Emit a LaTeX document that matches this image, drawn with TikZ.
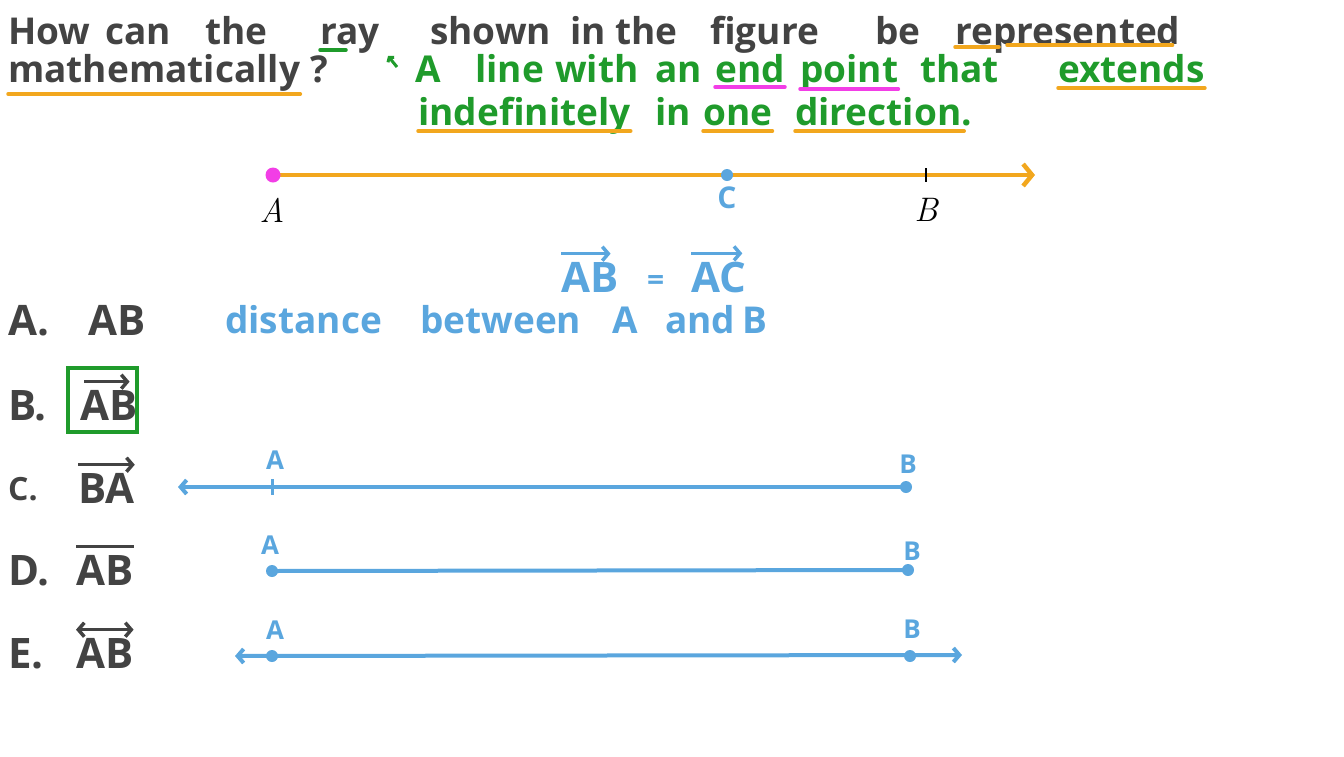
\documentclass[tikz,border=0pt]{standalone}
\usepackage{fontspec}
\newfontfamily\hand{Open Sans}
\usetikzlibrary{arrows.meta}
\definecolor{ink}{HTML}{434343}
\definecolor{note}{HTML}{1F9B2B}
\definecolor{hl}{HTML}{F2A71E}
\definecolor{pinkhl}{HTML}{F23EE6}
\definecolor{pen}{HTML}{5AA6DE}

\begin{document}
\begin{tikzpicture}[x=1pt, y=-1pt, >={Straight Barb[length=6pt, width=14pt]},
	word/.style={anchor=base west, inner sep=0pt, text=ink, font=\hand\bfseries\fontsize{37}{44}\selectfont},
	noteword/.style={word, text=note},
	penword/.style={word, text=pen},
	optword/.style={word, font=\hand\bfseries\fontsize{42}{50}\selectfont},
	uline/.style={line width=3.5pt, line cap=round},
	dot/.style={circle, fill=pen, inner sep=0pt, minimum size=12pt},
	lbl/.style={inner sep=0pt, text=pen, font=\hand\bfseries\fontsize{26}{30}\selectfont}]
	\useasboundingbox (0,0) rectangle (1344,756);
	%question
	\foreach \w/\x [count=\i] in {How/8, can/105, the/205, ray/320, shown/430, in/570, the/615, figure/710, be/875, represented/955}
		\node[word] (q\i) at (\x,44) {\w};
	\node[word] (q11) at (8,82) {mathematically};
	\node[word] (q12) at (310,82) {?};
	%note
	\foreach \w/\x [count=\i] in {A/415, line/475, with/555, an/655, end/715, point/800, that/920, extends/1058}
		\node[noteword] (n\i) at (\x,82) {\w};
	\foreach \w/\x [count=\i from 9] in {indefinitely/418, in/655, one/703, direction./795}
		\node[noteword] (n\i) at (\x,125) {\w};
	\coordinate (tail) at (397,67);
	\coordinate (head) at (388,56);
	\draw[note, line width=3pt, -{Straight Barb[length=3pt, width=8pt]}] (tail) -- (head);
	%underlines
	\draw[uline, note] ([yshift=-6pt]q4.base west) -- ++(26,0);
	\draw[uline, hl] ([yshift=-3pt]q10.base west) -- ++(44,0);
	\draw[uline, hl] ([xshift=52pt, yshift=-1pt]q10.base west) -- ([xshift=-8pt, yshift=-1pt]q10.base east);
	\foreach \n/\c/\d in {q11/hl/12, n5/pinkhl/5, n6/pinkhl/7, n8/hl/6, n9/hl/6, n11/hl/6}
		\draw[uline, \c] ([yshift=-\d pt]\n.base west) -- ([yshift=-\d pt]\n.base east);
	\draw[uline, hl] ([yshift=-6pt]n12.base west) -- ([xshift=-8pt, yshift=-6pt]n12.base east);
	%ray
	\coordinate (A) at (273,175);
	\coordinate (C) at (727,175);
	\coordinate (B) at (926,175);
	\coordinate (tip) at (1035,175);
	\draw[hl, line width=4.5pt, line cap=round, -{Straight Barb[length=9pt, width=22pt]}] (A) -- (tip);
	\node[circle, fill=pinkhl, inner sep=0pt, minimum width=11pt, minimum height=15pt] (Adot) at (A) {};
	\node[dot] (Cdot) at (C) {};
	\draw[black, line width=1.5pt] ([yshift=7pt]B) -- ([yshift=-7pt]B);
	\node[font=\fontsize{34}{40}\selectfont\itshape, inner sep=0pt] (Alab) at (272,210) {A};
	\node[lbl, font=\hand\bfseries\fontsize{30}{34}\selectfont] (Clab) at (727,198) {C};
	\node[font=\fontsize{34}{40}\selectfont\itshape, inner sep=0pt] (Blab) at (926,210) {B};
	%AB = AC
	\node[penword, font=\hand\bfseries\fontsize{42}{50}\selectfont] (ab) at (561,292) {AB};
	\node[penword, font=\hand\bfseries\fontsize{30}{36}\selectfont] (eq) at (647,290) {=};
	\node[penword, font=\hand\bfseries\fontsize{42}{50}\selectfont] (ac) at (691,292) {AC};
	\draw[pen, line width=3.5pt, ->] ([yshift=8pt]ab.north west) -- ([xshift=-8pt, yshift=8pt]ab.north east);
	\draw[pen, line width=3.5pt, ->] ([yshift=8pt]ac.north west) -- ([xshift=-4pt, yshift=8pt]ac.north east);
	%options
	\node[optword] (optA) at (8,335) {A.};
	\node[optword] (optB) at (8,420) {B.};
	\node[optword, font=\hand\bfseries\fontsize{32}{40}\selectfont] (optC) at (8,500) {C.};
	\node[optword] (optD) at (8,585) {D.};
	\node[optword] (optE) at (8,668) {E.};
	\node[optword] (ansA) at (88,335) {AB};
	\node[optword] (ansB) at (80,420) {AB};
	\node[optword] (ansC) at (78,503) {BA};
	\node[optword] (ansD) at (76,585) {AB};
	\node[optword] (ansE) at (76,668) {AB};
	\draw[note, line width=4pt] (68,368) rectangle (137,432);
	\draw[ink, line width=3.5pt, ->] ([xshift=4pt, yshift=8pt]ansB.north west) -- ([xshift=-8pt, yshift=8pt]ansB.north east);
	\draw[ink, line width=3.5pt, ->] ([yshift=8pt]ansC.north west) -- ([yshift=8pt]ansC.north east);
	\draw[ink, line width=3.5pt] ([yshift=8pt]ansD.north west) -- ([yshift=8pt]ansD.north east);
	\draw[ink, line width=3.5pt, <->] ([yshift=8pt]ansE.north west) -- ([yshift=8pt]ansE.north east);
	%distance
	\foreach \w/\x [count=\i] in {distance/225, between/420, A/612, and/665, B/742}
		\node[penword] (d\i) at (\x,333) {\w};
	%option C
	\coordinate (cA) at (272,487);
	\coordinate (cB) at (906,487);
	\coordinate (cTip) at (178,487);
	\draw[pen, line width=4pt, ->] (cB) -- (cTip);
	\draw[pen, line width=3pt] ([yshift=8pt]cA) -- ([yshift=-8pt]cA);
	\node[dot] (cBdot) at (cB) {};
	\node[lbl] (cAlab) at (275,460) {A};
	\node[lbl] (cBlab) at (908,464) {B};
	%option D
	\coordinate (dA) at (272,571);
	\coordinate (dB) at (908,570);
	\draw[pen, line width=4pt] (dA) -- (dB);
	\node[dot] (dAdot) at (dA) {};
	\node[dot] (dBdot) at (dB) {};
	\node[lbl] (dAlab) at (270,545) {A};
	\node[lbl] (dBlab) at (912,551) {B};
	%option E
	\coordinate (eA) at (272,656);
	\coordinate (eB) at (910,656);
	\coordinate (eL) at (235,656);
	\coordinate (eR) at (962,655);
	\draw[pen, line width=4pt, <->] (eL) -- (eR);
	\node[dot] (eAdot) at (eA) {};
	\node[dot] (eBdot) at (eB) {};
	\node[lbl] (eAlab) at (275,630) {A};
	\node[lbl] (eBlab) at (912,629) {B};
\end{tikzpicture}
\end{document}
